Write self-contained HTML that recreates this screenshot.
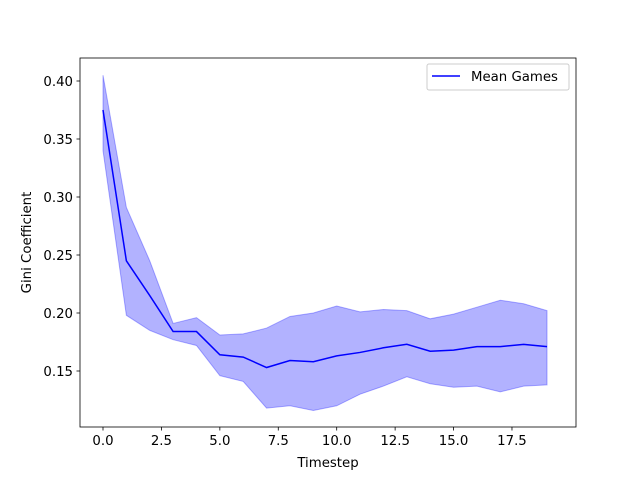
<!DOCTYPE html>
<html><head><meta charset="utf-8"><style>
body{margin:0;background:#fff;}
svg text{font-family:"DejaVu Sans","Liberation Sans",sans-serif;font-size:13.3px;fill:#000;}
</style></head><body>
<svg id="chart" width="640" height="480" xmlns="http://www.w3.org/2000/svg">
<rect width="640" height="480" fill="#fff"/>
<g id="plot"></g>
</svg>
<script>
const timesteps=[0,1,2,3,4,5,6,7,8,9,10,11,12,13,14,15,16,17,18,19];
const meanValues=[0.375,0.245,0.215,0.184,0.184,0.164,0.162,0.153,0.159,0.158,0.163,0.166,0.170,0.173,0.167,0.168,0.171,0.171,0.173,0.171];
const upperValues=[0.405,0.291,0.245,0.191,0.196,0.181,0.182,0.187,0.197,0.200,0.206,0.201,0.203,0.202,0.195,0.199,0.205,0.211,0.208,0.202];
const lowerValues=[0.340,0.198,0.185,0.177,0.172,0.146,0.141,0.118,0.120,0.116,0.120,0.130,0.137,0.145,0.139,0.136,0.137,0.132,0.137,0.138];
const xTicks=[0,2.5,5,7.5,10,12.5,15,17.5];
const xTickLabels=["0.0","2.5","5.0","7.5","10.0","12.5","15.0","17.5"];
const yTicks=[0.15,0.20,0.25,0.30,0.35,0.40];
const yTickLabels=["0.15","0.20","0.25","0.30","0.35","0.40"];

const L=80,R=576,T=58,B=427;
const xs=v=>103+v*23.37;
const ys=v=>371-(v-0.15)*1160;
const NS="http://www.w3.org/2000/svg";
const g=document.getElementById('plot');
function mk(tag,attrs,parent){const e=document.createElementNS(NS,tag);for(const k in attrs)e.setAttribute(k,attrs[k]);(parent||g).appendChild(e);return e;}

let d=timesteps.map((t,i)=>(i?'L':'M')+xs(t)+','+ys(upperValues[i])).join('');
for(let i=timesteps.length-1;i>=0;i--)d+='L'+xs(timesteps[i])+','+ys(lowerValues[i]);
const band=mk('path',{d:d+'Z',fill:'#0000ff','fill-opacity':0.3,stroke:'#0000ff','stroke-opacity':0.3});


const line=mk('path',{d:timesteps.map((t,i)=>(i?'L':'M')+xs(t)+','+ys(meanValues[i])).join(''),fill:'none',stroke:'#0000ff','stroke-width':1.5});



const frame=mk('rect',{x:L,y:T,width:R-L,height:B-T,fill:'none',stroke:'#000','stroke-width':0.8});



xTicks.forEach((v,i)=>{const x=xs(v);
 mk('line',{x1:x,x2:x,y1:B,y2:B+3.5,stroke:'#000','stroke-width':0.8});
 const t=mk('text',{x:x,y:B+18,'text-anchor':'middle'});t.textContent=xTickLabels[i];
 
 });
yTicks.forEach((v,i)=>{const y=ys(v);
 mk('line',{x1:L-3.5,x2:L,y1:y,y2:y,stroke:'#000','stroke-width':0.8});
 const t=mk('text',{x:L-7,y:y+5,'text-anchor':'end'});t.textContent=yTickLabels[i];
 
 });

const xt=mk('text',{x:(L+R)/2,y:467,'text-anchor':'middle'});xt.textContent='Timestep';


const yt=mk('text',{x:31,y:(T+B)/2,'text-anchor':'middle',transform:'rotate(-90 31 '+((T+B)/2)+')'});yt.textContent='Gini Coefficient';



const lg=mk('g',{});


mk('rect',{x:427,y:64,width:142,height:26,rx:2,fill:'#fff','fill-opacity':0.8,stroke:'#ccc'},lg);
mk('line',{x1:432,x2:460,y1:76,y2:76,stroke:'#0000ff','stroke-width':1.5},lg);
const lt=mk('text',{x:471,y:81},lg);lt.textContent='Mean Games';


</script>
</body></html>
